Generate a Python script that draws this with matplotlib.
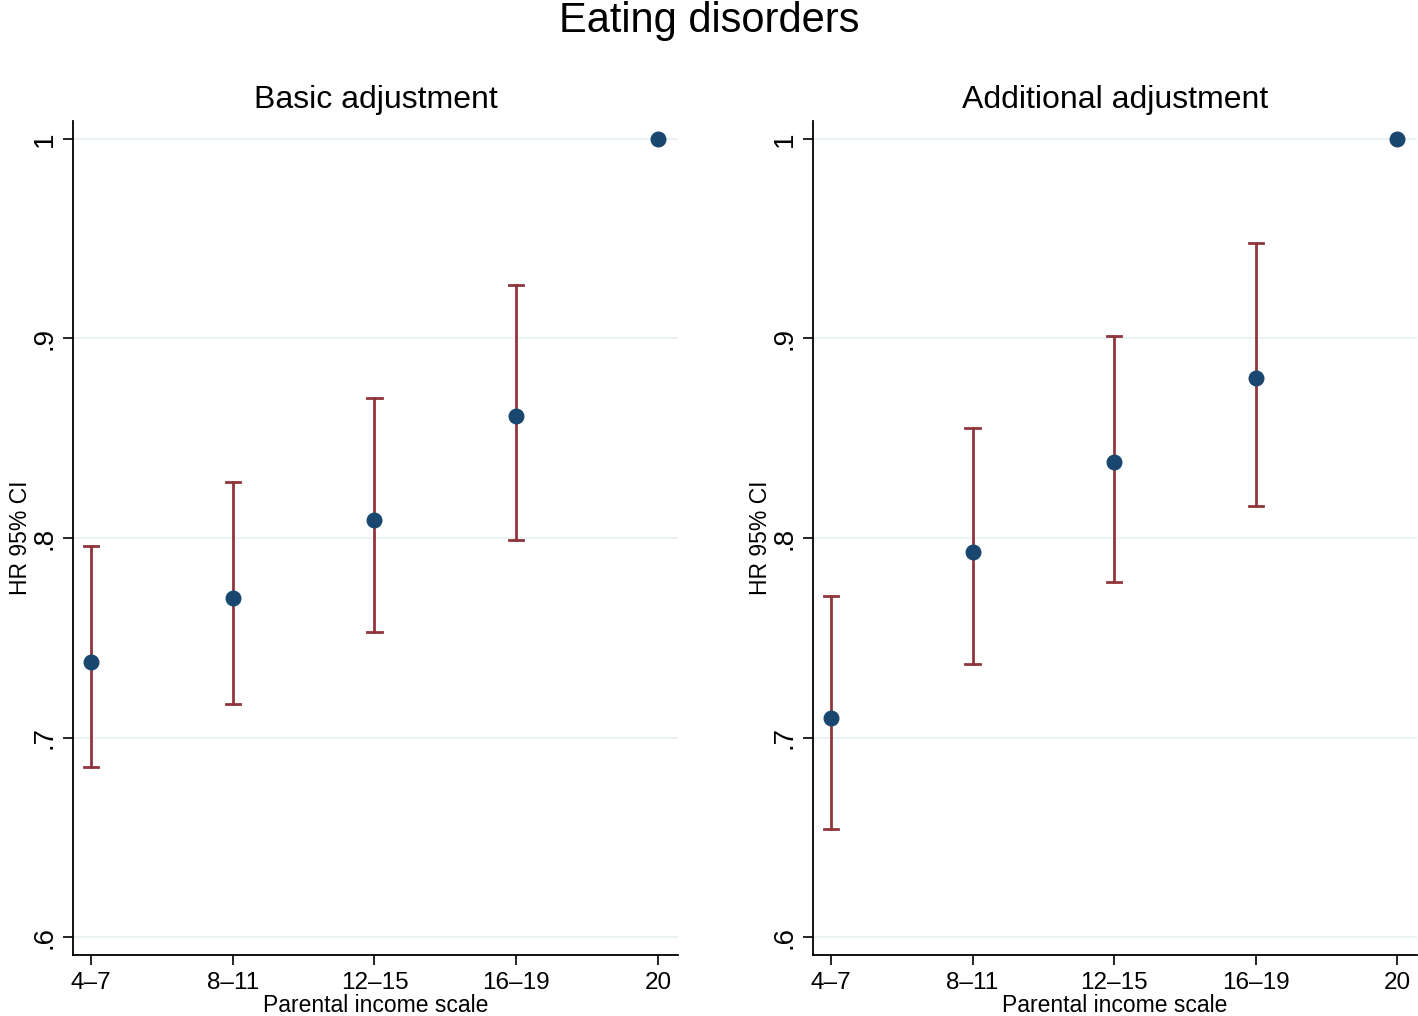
import matplotlib
matplotlib.use('Agg')
import matplotlib.pyplot as plt

plt.rcParams['font.family'] = ['Liberation Sans', 'DejaVu Sans']

# income groups on the x axis
groups = ['4\u20137', '8\u201311', '12\u201315', '16\u201319', '20']

# basic adjustment: hazard ratios and 95% CI
basic_hr = [0.738, 0.770, 0.809, 0.861, 1.0]
basic_lo = [0.685, 0.717, 0.753, 0.799, None]
basic_hi = [0.796, 0.828, 0.870, 0.927, None]

# additional adjustment
add_hr = [0.710, 0.793, 0.838, 0.880, 1.0]
add_lo = [0.654, 0.737, 0.778, 0.816, None]
add_hi = [0.771, 0.855, 0.901, 0.948, None]

yticks = [0.6, 0.7, 0.8, 0.9, 1.0]
ytick_labels = ['.6', '.7', '.8', '.9', '1']

navy = '#1a476f'
maroon = '#90353b'
grid_col = '#eaf2f3'

fig = plt.figure(figsize=(14.18, 10.16), dpi=100)
fig.suptitle('Eating disorders', fontsize=30, y=0.999, va='top')

panels = [
    ([0.0515, 0.060, 0.4265, 0.821], 'Basic adjustment', basic_hr, basic_lo, basic_hi),
    ([0.5733, 0.060, 0.4262, 0.821], 'Additional adjustment', add_hr, add_lo, add_hi),
]

x = list(range(1, len(groups) + 1))

for rect, title, hr, lo, hi in panels:
    ax = fig.add_axes(rect)
    # CI bars for the groups with an interval
    for xi, lo_i, hi_i in zip(x, lo, hi):
        if lo_i is None:
            continue
        ax.plot([xi, xi], [lo_i, hi_i], color=maroon, lw=2, zorder=2)
        ax.plot([xi - 0.05, xi + 0.05], [lo_i, lo_i], color=maroon, lw=2, zorder=2)
        ax.plot([xi - 0.05, xi + 0.05], [hi_i, hi_i], color=maroon, lw=2, zorder=2)
    ax.plot(x, hr, 'o', color=navy, markersize=10.5, zorder=3)

    ax.set_xlim(0.873, 5.14)
    ax.set_ylim(0.591, 1.009)
    ax.set_xticks(x)
    ax.set_xticklabels(groups, fontsize=17.5)
    ax.set_yticks(yticks)
    ax.set_yticklabels(ytick_labels, fontsize=20, rotation=90, va='center')
    ax.yaxis.grid(True, color=grid_col, lw=1.5)
    ax.set_axisbelow(True)
    for s in ['top', 'right']:
        ax.spines[s].set_visible(False)
    for s in ['left', 'bottom']:
        ax.spines[s].set_linewidth(1.3)
    ax.tick_params(length=7, width=1.2)
    ax.tick_params(axis='x', pad=5)
    ax.tick_params(axis='y', pad=4)
    ax.set_title(title, fontsize=23, pad=9)
    ax.set_xlabel('Parental income scale', fontsize=16.5, labelpad=0)
    ax.set_ylabel('HR 95% CI', fontsize=16.5, labelpad=0)

fig.savefig('out.png', dpi=100)
